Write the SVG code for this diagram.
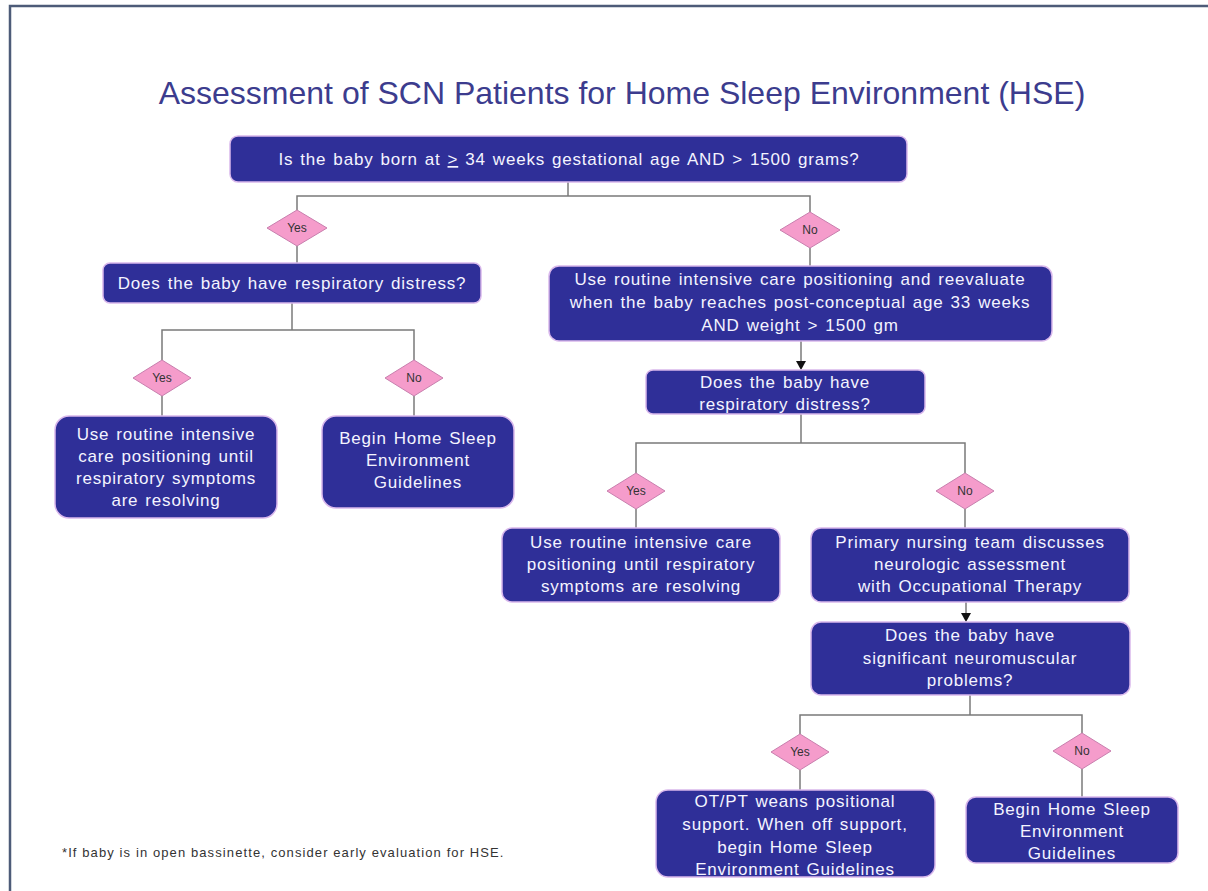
<svg xmlns="http://www.w3.org/2000/svg" width="1208" height="891" viewBox="0 0 1208 891">
<style>
.node rect{fill:#2f2f98;stroke:#d9b8ec;stroke-width:1.5}
.node text{fill:#f4f4ff;font-family:"Liberation Sans",Arial,sans-serif;font-size:17px;letter-spacing:0.8px;word-spacing:1.5px;text-anchor:middle}
.dia polygon{fill:#f59ccb;stroke:#c87fae;stroke-width:1}
.dia text{fill:#333;font-family:"Liberation Sans",Arial,sans-serif;font-size:12px;text-anchor:middle}
.conn line,.conn polyline{stroke:#7a7a7a;stroke-width:1.5;fill:none}
</style>
<rect width="1208" height="891" fill="#fff"/>
<path d="M10,891 V6 H1208" fill="none" stroke="#4d5b78" stroke-width="2.5"/>
<text x="622" y="104" text-anchor="middle" font-family="Liberation Sans,Arial,sans-serif" font-size="32" fill="#3c3c8e">Assessment of SCN Patients for Home Sleep Environment (HSE)</text>

<g class="conn">
<polyline points="568,182 568,196"/>
<polyline points="297,210 297,196 810,196 810,212"/>
<line x1="297" y1="246" x2="297" y2="263"/>
<line x1="810" y1="248" x2="810" y2="266"/>
<polyline points="292,303 292,330"/>
<polyline points="162,360 162,330 414,330 414,360"/>
<line x1="162" y1="396" x2="162" y2="416"/>
<line x1="414" y1="396" x2="414" y2="416"/>
<line x1="801" y1="341" x2="801" y2="368"/>
<path d="M796,361 L806,361 L801,370 Z" fill="#111"/>
<line x1="801" y1="414" x2="801" y2="443"/>
<polyline points="636,473 636,443 965,443 965,473"/>
<line x1="636" y1="509" x2="636" y2="528"/>
<line x1="965" y1="509" x2="965" y2="528"/>
<line x1="966" y1="602" x2="966" y2="620"/>
<path d="M961,613 L971,613 L966,622 Z" fill="#111"/>
<line x1="970" y1="695" x2="970" y2="715"/>
<polyline points="800,734 800,715 1082,715 1082,733"/>
<line x1="800" y1="770" x2="800" y2="790"/>
<line x1="1082" y1="769" x2="1082" y2="797"/>
</g>

<g id="n1" class="node"><rect x="230" y="136" width="677" height="46" rx="8"/>
<text x="569" y="165">Is the baby born at <tspan text-decoration="underline">&gt;</tspan> 34 weeks gestational age AND &gt; 1500 grams?</text></g>

<g id="d1" class="dia"><polygon points="297,210 327,228 297,246 267,228"/><text x="297" y="232">Yes</text></g>
<g id="d2" class="dia"><polygon points="810,212 840,230 810,248 780,230"/><text x="810" y="234">No</text></g>

<g id="n2" class="node"><rect x="103" y="263" width="378" height="40" rx="7"/>
<text x="292" y="289">Does the baby have respiratory distress?</text></g>

<g id="n3" class="node"><rect x="549" y="266" width="503" height="75" rx="10"/>
<text x="800" y="285">Use routine intensive  care positioning  and reevaluate</text>
<text x="800" y="308">when the baby reaches post-conceptual age 33 weeks</text>
<text x="800" y="331">AND weight &gt; 1500 gm</text></g>

<g id="d3" class="dia"><polygon points="162,360 191,378 162,396 133,378"/><text x="162" y="382">Yes</text></g>
<g id="d4" class="dia"><polygon points="414,360 443,378 414,396 385,378"/><text x="414" y="382">No</text></g>

<g id="n4" class="node"><rect x="55" y="416" width="222" height="102" rx="14"/>
<text x="166" y="440">Use routine intensive</text>
<text x="166" y="462">care positioning until</text>
<text x="166" y="484">respiratory symptoms</text>
<text x="166" y="506">are resolving</text></g>

<g id="n5" class="node"><rect x="322" y="416" width="192" height="92" rx="14"/>
<text x="418" y="444">Begin Home Sleep</text>
<text x="418" y="466">Environment</text>
<text x="418" y="488">Guidelines</text></g>

<g id="n6" class="node"><rect x="646" y="370" width="279" height="44" rx="7"/>
<text x="785" y="388">Does the baby have</text>
<text x="785" y="410">respiratory distress?</text></g>

<g id="d5" class="dia"><polygon points="636,473 665,491 636,509 607,491"/><text x="636" y="495">Yes</text></g>
<g id="d6" class="dia"><polygon points="965,473 994,491 965,509 936,491"/><text x="965" y="495">No</text></g>

<g id="n7" class="node"><rect x="502" y="528" width="278" height="74" rx="10"/>
<text x="641" y="548">Use routine intensive  care</text>
<text x="641" y="570">positioning until respiratory</text>
<text x="641" y="592">symptoms are resolving</text></g>

<g id="n8" class="node"><rect x="811" y="528" width="318" height="74" rx="10"/>
<text x="970" y="548">Primary nursing team discusses</text>
<text x="970" y="570">neurologic assessment</text>
<text x="970" y="592">with Occupational Therapy</text></g>

<g id="n9" class="node"><rect x="811" y="622" width="319" height="73" rx="10"/>
<text x="970" y="641">Does the baby have</text>
<text x="970" y="664">significant neuromuscular</text>
<text x="970" y="686">problems?</text></g>

<g id="d7" class="dia"><polygon points="800,734 829,752 800,770 771,752"/><text x="800" y="756">Yes</text></g>
<g id="d8" class="dia"><polygon points="1082,733 1111,751 1082,769 1053,751"/><text x="1082" y="755">No</text></g>

<g id="n10" class="node"><rect x="656" y="790" width="279" height="87" rx="12"/>
<text x="795" y="807">OT/PT weans positional</text>
<text x="795" y="830">support.  When off support,</text>
<text x="795" y="853">begin Home  Sleep</text>
<text x="795" y="875">Environment  Guidelines</text></g>

<g id="n11" class="node"><rect x="966" y="797" width="212" height="66" rx="10"/>
<text x="1072" y="815">Begin Home Sleep</text>
<text x="1072" y="837">Environment</text>
<text x="1072" y="859">Guidelines</text></g>

<text x="62" y="857" font-family="Liberation Sans,Arial,sans-serif" font-size="13" letter-spacing="1.1" fill="#333">*If baby is in open bassinette,  consider early evaluation  for HSE.</text>
</svg>
